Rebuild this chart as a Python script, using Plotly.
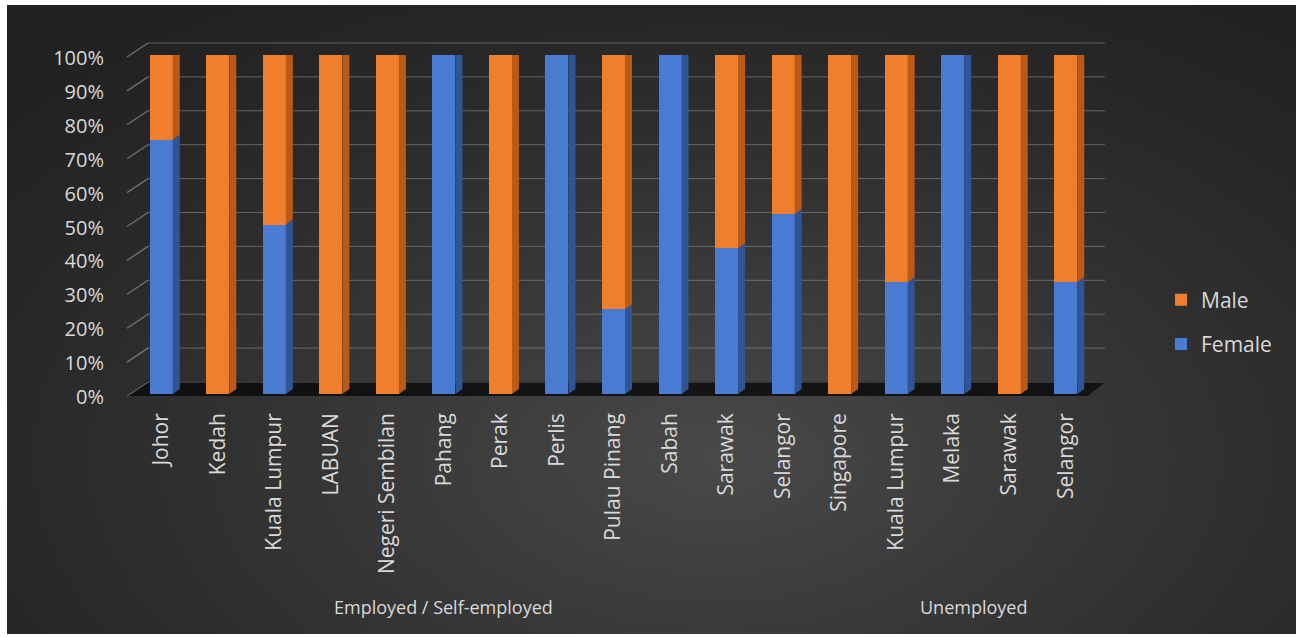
import base64
import struct
import zlib

import numpy as np
import plotly.graph_objects as go

# ---- data -------------------------------------------------------------
categories = ["Johor", "Kedah", "Kuala Lumpur", "LABUAN", "Negeri Sembilan",
              "Pahang", "Perak", "Perlis", "Pulau Pinang", "Sabah", "Sarawak",
              "Selangor", "Singapore", "Kuala Lumpur", "Melaka", "Sarawak",
              "Selangor"]
group_names = ["Employed / Self-employed", "Unemployed"]
female = [75, 0, 50, 0, 0, 100, 0, 100, 25, 100, 43, 53, 0, 33, 100, 0, 33]
male = [25, 100, 50, 100, 100, 0, 100, 0, 75, 0, 57, 47, 100, 67, 0, 100, 67]
tick_values = [0, 10, 20, 30, 40, 50, 60, 70, 80, 90, 100]
tick_labels = [f"{v}%" for v in tick_values]

# ---- geometry (pixels) ------------------------------------------------
W, H = 1303, 637
X_LEFT, X_RIGHT = 133, 1094      # x-axis domain in pixels
Y_ZERO, Y_FULL = 394, 55         # pixel rows of 0 % and 100 % on the front plane
BACK_DX, BACK_DY = 18, 12        # shift of the back wall
FACE_HALF = 0.2035               # half width of a column's front face (category units)
SIDE_W = 0.124                   # depth of a column, horizontally
SIDE_H = 1.5                     # depth of a column, vertically (percent units)

TEXT = "#d9d9d9"
FONT = "Open Sans"

BLUE, BLUE_SIDE, BLUE_TOP = "#4a7bd2", "#2f5597", "#6f95dc"
ORANGE, ORANGE_SIDE, ORANGE_TOP = "#f07f2d", "#bb5a16", "#f59a55"


def fx(p):
    return p / W


def fy(p):
    return 1 - p / H


def row_of(v):
    return Y_ZERO + (Y_FULL - Y_ZERO) * v / 100.0


# ---- background image ---------------------------------------------------
def png_uri(rgb):
    h, w, _ = rgb.shape
    raw = b"".join(b"\x00" + rgb[r].tobytes() for r in range(h))

    def chunk(tag, data):
        body = tag + data
        return (struct.pack(">I", len(data)) + body
                + struct.pack(">I", zlib.crc32(body) & 0xFFFFFFFF))

    png = (b"\x89PNG\r\n\x1a\n"
           + chunk(b"IHDR", struct.pack(">IIBBBBB", w, h, 8, 2, 0, 0, 0))
           + chunk(b"IDAT", zlib.compress(raw, 9))
           + chunk(b"IEND", b""))
    return "data:image/png;base64," + base64.b64encode(png).decode()


gw, gh = 260, 126
u, v = np.meshgrid(np.linspace(0, 1, gw), np.linspace(0, 1, gh))
dist = np.clip(np.sqrt(((u - 0.55) / 0.75) ** 2 + ((v - 0.72) / 0.9) ** 2), 0, 1)
shade = (34 + 40 * (1 - dist) ** 1.3).astype(np.uint8)
bg = np.dstack([shade, shade, shade]).astype(np.uint8)
bg_uri = png_uri(np.ascontiguousarray(bg))

# ---- figure -------------------------------------------------------------
idx = list(range(len(categories)))
fig = go.Figure()

fig.add_trace(go.Bar(
    x=idx, y=male, base=female, name="Male", legendgroup="m",
    width=2 * FACE_HALF, offset=-FACE_HALF,
    marker=dict(color=ORANGE, line=dict(width=0)), hoverinfo="skip"))
fig.add_trace(go.Bar(
    x=idx, y=female, base=[0] * len(female), name="Female", legendgroup="f",
    width=2 * FACE_HALF, offset=-FACE_HALF,
    marker=dict(color=BLUE, line=dict(width=0)), hoverinfo="skip"))

# side and top faces of the columns
side = {"f": ([], []), "m": ([], [])}
top = {"f": ([], []), "m": ([], [])}
for i, (f, m) in enumerate(zip(female, male)):
    right = i + FACE_HALF
    for key, lo, hi in (("f", 0, f), ("m", f, f + m)):
        if hi - lo <= 0:
            continue
        xs, ys = side[key]
        xs += [right, right + SIDE_W, right + SIDE_W, right, right, None]
        ys += [lo, lo + SIDE_H, hi + SIDE_H, hi, lo, None]
    top_key = "m" if m > 0 else "f"
    peak = f + m
    xs, ys = top[top_key]
    xs += [i - FACE_HALF, right, right + SIDE_W, i - FACE_HALF + SIDE_W,
           i - FACE_HALF, None]
    ys += [peak, peak, peak + SIDE_H, peak + SIDE_H, peak, None]

for key, col in (("f", BLUE_SIDE), ("m", ORANGE_SIDE)):
    fig.add_trace(go.Scatter(
        x=side[key][0], y=side[key][1], mode="lines", fill="toself",
        fillcolor=col, line=dict(width=0, color=col), showlegend=False,
        hoverinfo="skip", cliponaxis=False))
for key, col in (("f", BLUE_TOP), ("m", ORANGE_TOP)):
    fig.add_trace(go.Scatter(
        x=top[key][0], y=top[key][1], mode="lines", fill="toself",
        fillcolor=col, line=dict(width=0, color=col), showlegend=False,
        hoverinfo="skip", cliponaxis=False))

# floor, back-wall gridlines and the slanted ticks of the side wall
shapes = []
floor_front = row_of(0) + 2
floor_back = row_of(0) - BACK_DY - 1
shapes.append(dict(
    type="path", xref="paper", yref="paper", layer="below",
    path=(f"M{fx(126)},{fy(floor_front)} L{fx(126 + 21)},{fy(floor_back)} "
          f"L{fx(1106)},{fy(floor_back)} L{fx(1088)},{fy(floor_front)} Z"),
    fillcolor="rgba(12,12,12,0.85)", line=dict(width=0)))
for tv in tick_values:
    yf = row_of(tv)
    yb = yf - BACK_DY
    shapes.append(dict(type="line", xref="paper", yref="paper", layer="below",
                       x0=fx(X_LEFT + 15), x1=fx(1105), y0=fy(yb), y1=fy(yb),
                       line=dict(color="rgba(150,150,150,0.55)", width=1)))
    shapes.append(dict(type="line", xref="paper", yref="paper", layer="below",
                       x0=fx(127), x1=fx(X_LEFT + 15), y0=fy(yf + 2), y1=fy(yb),
                       line=dict(color="rgba(150,150,150,0.65)", width=1.3)))

annotations = [
    dict(text=group_names[0], x=fx(443), y=fy(607), xref="paper", yref="paper",
         xanchor="center", yanchor="middle", showarrow=False,
         font=dict(family=FONT, size=18, color=TEXT)),
    dict(text=group_names[1], x=fx(973), y=fy(607), xref="paper", yref="paper",
         xanchor="center", yanchor="middle", showarrow=False,
         font=dict(family=FONT, size=18, color=TEXT)),
]

fig.update_layout(
    width=W, height=H, autosize=False,
    margin=dict(l=0, r=0, t=0, b=0, pad=0),
    paper_bgcolor="#ffffff", plot_bgcolor="rgba(0,0,0,0)",
    barmode="overlay", bargap=0,
    font=dict(family=FONT, color=TEXT),
    images=[dict(source=bg_uri, xref="paper", yref="paper",
                 x=fx(7), y=fy(5), sizex=fx(1296 - 7), sizey=(634 - 5) / H,
                 xanchor="left", yanchor="top", sizing="stretch",
                 layer="below")],
    shapes=shapes, annotations=annotations,
    xaxis=dict(domain=[fx(X_LEFT), fx(X_RIGHT)], range=[-0.5, len(idx) - 0.5],
               tickvals=idx, ticktext=categories, tickangle=-90,
               tickfont=dict(family=FONT, size=21, color=TEXT),
               showgrid=False, zeroline=False, showline=False, ticks="",
               ticklabelstandoff=14, automargin=False, fixedrange=True),
    yaxis=dict(domain=[fy(Y_ZERO), fy(Y_FULL)], range=[0, 100],
               tickvals=tick_values, ticktext=tick_labels,
               tickfont=dict(family=FONT, size=20, color=TEXT),
               showgrid=False, zeroline=False, showline=False, ticks="",
               ticklabelstandoff=28, ticklabelshift=3,
               automargin=False, fixedrange=True),
    legend=dict(x=fx(1161), xanchor="left", y=fy(322), yanchor="middle",
                traceorder="grouped", tracegroupgap=14,
                font=dict(family=FONT, size=21, color=TEXT),
                bgcolor="rgba(0,0,0,0)", itemclick=False, itemdoubleclick=False),
    showlegend=True,
)

fig.write_html("out.html")
